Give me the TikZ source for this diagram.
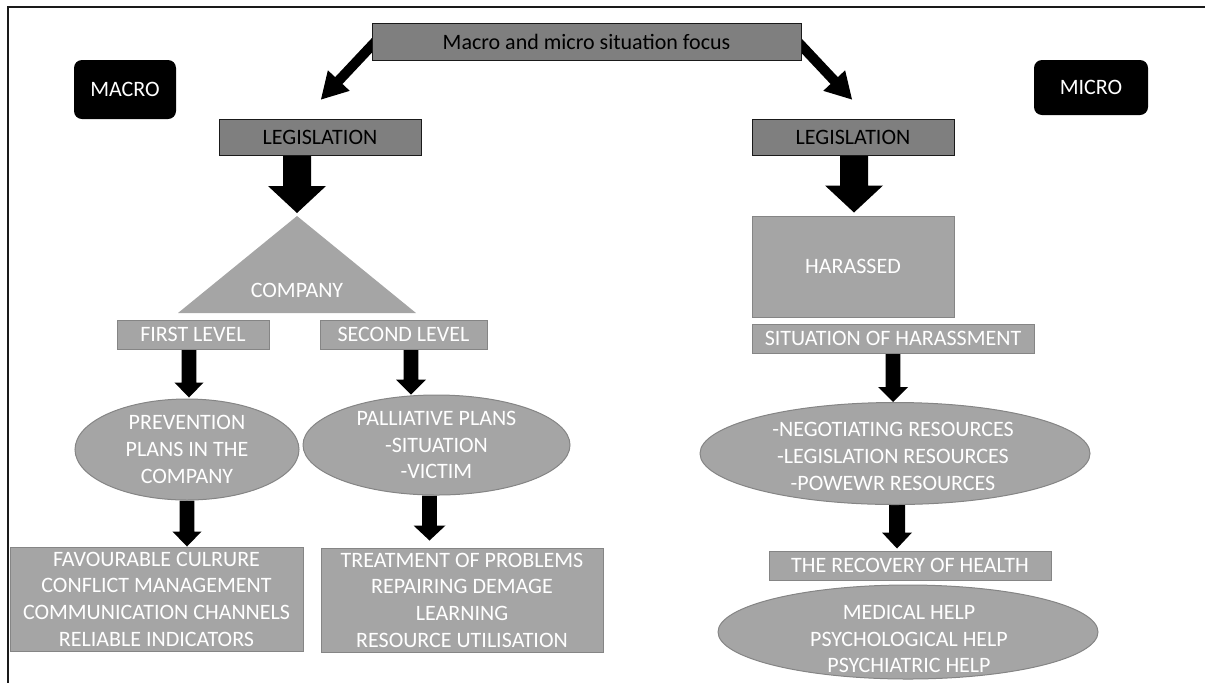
\documentclass[tikz,border=0pt]{standalone}
\usepackage{fontspec}
\setmainfont{Carlito}
\usetikzlibrary{calc,shapes.geometric}
\definecolor{dgray}{HTML}{7F7F7F}
\definecolor{lgray}{HTML}{A5A5A5}
\definecolor{edgegray}{HTML}{858585}
\definecolor{frameblack}{HTML}{1A1A1A}
\pgfdeclarelayer{background}
\pgfsetlayers{background,main}
\newcommand\dsize{\fontsize{16.5}{20}\selectfont}
% block arrow: start, end, shaft half width, head half width, head length
\newcommand\blockarrow[5]{%
  \coordinate (ba-s) at (#1);
  \coordinate (ba-e) at (#2);
  \coordinate (ba-c) at ($(ba-e)!#5!(ba-s)$);
  \fill[black] ($(ba-s)!#3!90:(ba-e)$) -- ($(ba-c)!#3!90:(ba-e)$) -- ($(ba-c)!#4!90:(ba-e)$) -- (ba-e) -- ($(ba-c)!#4!-90:(ba-e)$) -- ($(ba-c)!#3!-90:(ba-e)$) -- ($(ba-s)!#3!-90:(ba-e)$) -- cycle;
}
\tikzset{
  darkbox/.style={draw=frameblack, line width=0.75pt, fill=dgray, text=black, inner sep=0pt, font=\dsize, align=center},
  lightbox/.style={draw=edgegray, line width=0.75pt, fill=lgray, text=white, inner sep=0pt, font=\dsize, align=center},
  lightell/.style={ellipse, draw=edgegray, line width=0.75pt, fill=lgray, inner sep=0pt},
  ltext/.style={text=white, inner sep=0pt, font=\dsize, align=center},
  tagbox/.style={fill=black, rounded corners=6pt, text=white, inner sep=0pt, font=\dsize},
  frameline/.style={draw=frameblack, line width=1.5pt}
}
\begin{document}
\begin{tikzpicture}[x=0.75pt,y=-0.75pt]
\useasboundingbox (0,0) rectangle (1205,683);
% frame
\coordinate (fr-tl) at (7.5,6.5);
\coordinate (fr-tr) at (1205,6.5);
\coordinate (fr-bl) at (7.5,683);
\draw[frameline] (fr-tr) -- (fr-tl) -- (fr-bl);

% top
\node[darkbox, minimum width=429*0.75pt, minimum height=37*0.75pt] (title) at (586.5,41.5) {Macro and micro situation focus};
\node[tagbox, minimum width=102*0.75pt, minimum height=59*0.75pt] (macro) at (125,89.5) {MACRO};
\node[tagbox, minimum width=114*0.75pt, minimum height=55*0.75pt] (micro) at (1091,87.5) {MICRO};
\node[darkbox, minimum width=202*0.75pt, minimum height=36*0.75pt] (leg1) at (320,137) {LEGISLATION};
\node[darkbox, minimum width=202*0.75pt, minimum height=36*0.75pt] (leg2) at (853,137) {LEGISLATION};

% macro side
\coordinate (apex) at (297,216);
\coordinate (tri-r) at (416,313);
\coordinate (tri-l) at (178,313);
\fill[lgray] (apex) -- (tri-r) -- (tri-l) -- cycle;
\node[ltext] (company) at (297,290) {COMPANY};
\node[lightbox, minimum width=152*0.75pt, minimum height=29.5*0.75pt] (first) at (193,334.75) {FIRST LEVEL};
\node[lightbox, minimum width=167*0.75pt, minimum height=29.5*0.75pt] (second) at (403.5,334.75) {SECOND LEVEL};
\node[lightell, minimum width=224*0.75pt, minimum height=101*0.75pt] (prev) at (187,449.5) {};
\node[ltext] (prevt) at (prev) {PREVENTION\\PLANS IN THE\\COMPANY};
\node[lightell, minimum width=267*0.75pt, minimum height=100*0.75pt] (pall) at (436.5,445) {};
\node[ltext] (pallt) at (pall) {PALLIATIVE PLANS\\-SITUATION\\-VICTIM};
\node[lightbox, minimum width=293*0.75pt, minimum height=104*0.75pt] (fav) at (156.5,599) {FAVOURABLE CULRURE\\CONFLICT MANAGEMENT\\COMMUNICATION CHANNELS\\RELIABLE INDICATORS};
\node[lightbox, minimum width=282*0.75pt, minimum height=104*0.75pt] (treat) at (462,600) {TREATMENT OF PROBLEMS\\REPAIRING DEMAGE\\LEARNING\\RESOURCE UTILISATION};

% micro side
\node[lightbox, minimum width=202*0.75pt, minimum height=101*0.75pt] (harassed) at (853,266.5) {HARASSED};
\node[lightbox, minimum width=282*0.75pt, minimum height=29*0.75pt] (situ) at (893,338.5) {SITUATION OF HARASSMENT};
\node[lightell, minimum width=390*0.75pt, minimum height=102*0.75pt] (neg) at (895,453.5) {};
\node[ltext] (negt) at ($(neg)+(-2,3)$) {-NEGOTIATING RESOURCES\\-LEGISLATION RESOURCES\\-POWEWR RESOURCES};
\node[lightbox, minimum width=282*0.75pt, minimum height=29*0.75pt] (rec) at (910,565.5) {THE RECOVERY OF HEALTH};
\node[lightell, minimum width=380*0.75pt, minimum height=94*0.75pt] (med) at (908,632) {};
\node[ltext] (medt) at ($(med)+(1,7)$) {MEDICAL HELP\\PSYCHOLOGICAL HELP\\PSYCHIATRIC HELP};

% arrows
\begin{pgfonlayer}{background}
\blockarrow{$(title.west)+(4,0)$}{$(leg1.north)+(1,-19)$}{3.75pt}{11.25pt}{19.5pt}
\blockarrow{$(title.east)+(-4,0)$}{$(leg2.north)+(-1,-19)$}{3.75pt}{11.25pt}{19.5pt}
\blockarrow{apex |- leg1.south}{$(apex)+(0,-3)$}{10.5pt}{21.75pt}{20.25pt}
\blockarrow{$(leg2.south)+(1,0)$}{$(harassed.north)+(1,-3)$}{10.5pt}{21.75pt}{20.25pt}
\blockarrow{$(first.south)+(-4,0)$}{$(prev.north)+(2,-1)$}{5.6pt}{10.9pt}{11.25pt}
\blockarrow{$(second.south)+(7.5,0)$}{$(second.south |- pall.north)+(7.5,0)$}{5.6pt}{11.25pt}{11.25pt}
\blockarrow{prev.south}{prev.south |- fav.north}{5.6pt}{10.9pt}{11.25pt}
\blockarrow{$(pall.south)+(-7,0)$}{$(pall.south |- treat.north)+(-7,-7)$}{5.6pt}{12pt}{11.25pt}
\blockarrow{situ.south}{situ.south |- neg.north}{5.6pt}{11.25pt}{11.25pt}
\blockarrow{$(neg.south)+(2,0)$}{$(neg.south |- rec.north)+(2,-2)$}{6pt}{11.25pt}{12pt}
\end{pgfonlayer}
\end{tikzpicture}
\end{document}
